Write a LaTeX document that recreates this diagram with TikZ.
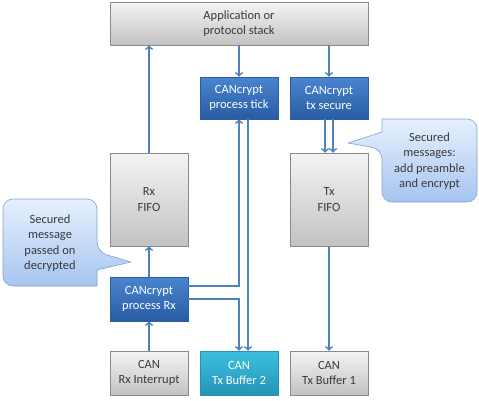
\documentclass[tikz,border=0pt]{standalone}
\usepackage{fontspec}
\setmainfont{Carlito}
\usetikzlibrary{shadows}
\definecolor{arrowblue}{HTML}{4F81BD}
\definecolor{graytop}{HTML}{F4F4F4}
\definecolor{graybottom}{HTML}{C2C2C2}
\definecolor{grayedge}{HTML}{8A8A8A}
\definecolor{textgray}{HTML}{3A3A3A}
\definecolor{bluetop}{HTML}{4A85CF}
\definecolor{bluebottom}{HTML}{285CA4}
\definecolor{blueedge}{HTML}{2D5E9E}
\definecolor{cyantop}{HTML}{3DC0E0}
\definecolor{cyanbottom}{HTML}{2494B6}
\definecolor{cyanedge}{HTML}{2A8FB0}
\definecolor{notetop}{HTML}{E6F0FD}
\definecolor{notebottom}{HTML}{A6C5F0}
\definecolor{noteedge}{HTML}{7FA3D8}

\begin{document}
\begin{tikzpicture}[x=1pt, y=-1pt,
    box/.style={draw=grayedge, line width=0.6pt, top color=graytop, bottom color=graybottom, text=textgray, minimum width=78pt, minimum height=44pt, inner sep=0pt, align=center, font=\fontsize{12.5}{15.5}\selectfont, drop shadow={shadow xshift=1.2pt, shadow yshift=-1.2pt, opacity=0.25}},
    bluebox/.style={box, draw=blueedge, top color=bluetop, bottom color=bluebottom, text=white},
    notebox/.style={draw=noteedge, line width=0.6pt, top color=notetop, bottom color=notebottom},
    notetext/.style={text=textgray, align=center, font=\fontsize{12.5}{15.5}\selectfont},
    link/.style={->, draw=arrowblue, line width=1.8pt}]
    \useasboundingbox (0,0) rectangle (479,400);
    \node[box, minimum width=258pt, minimum height=43pt] (app) at (239,23.5) {Application or\\protocol stack};
    \node[bluebox, minimum height=42pt] (tick) at (239,98) {CANcrypt\\process tick};
    \node[bluebox, minimum height=42pt] (txsec) at (329,98) {CANcrypt\\tx secure};
    \node[box, minimum height=93pt] (rxfifo) at (149,199.5) {Rx\\FIFO};
    \node[box, minimum height=93pt] (txfifo) at (329,199.5) {Tx\\FIFO};
    \node[bluebox] (rxproc) at (149,299) {CANcrypt\\process Rx};
    \node[box] (rxint) at (149,373) {CAN\\Rx Interrupt};
    \node[box, draw=cyanedge, top color=cyantop, bottom color=cyanbottom, text=white] (txbuf2) at (239,373) {CAN\\Tx Buffer 2};
    \node[box] (txbuf1) at (329,373) {CAN\\Tx Buffer 1};
    \draw[notebox] (3,242) [rounded corners=10pt] -- (3,199) -- (97,199) -- (97,252) [sharp corners] -- (131,262) -- (97,270) -- (97,286) [rounded corners=10pt] -- (3,286) -- cycle;
    \draw[notebox] (429,119) [rounded corners=10pt] -- (477,119) -- (477,202) -- (382,202) -- (382,149) [sharp corners] -- (348,143) -- (382,132) -- (382,119) [rounded corners=10pt] -- cycle;
    \node[notetext] (noterx) at (50,243) {Secured\\message\\passed on\\decrypted};
    \node[notetext] (notetx) at (429.5,161) {Secured\\messages:\\add preamble\\and encrypt};
    \draw[link] (rxfifo.north) -- (rxfifo.north |- app.south);
    \draw[link] (app.south -| tick.north) -- (tick.north);
    \draw[link] (app.south -| txsec.north) -- (txsec.north);
    \draw[link] ([xshift=-4pt]txsec.south) -- ([xshift=-4pt]txfifo.north);
    \draw[link] ([xshift=4pt]txsec.south) -- ([xshift=4pt]txfifo.north);
    \draw[link] (txfifo.south) -- (txbuf1.north);
    \draw[link] (rxint.north) -- (rxproc.south);
    \draw[link] (rxproc.north) -- (rxfifo.south);
    \draw[link] ([yshift=13pt]rxproc.east) -| (tick.south);
    \draw[link] ([xshift=9pt]tick.south) -- ([xshift=9pt]txbuf2.north);
    \draw[link] (rxproc.east) -| (txbuf2.north);
\end{tikzpicture}
\end{document}
